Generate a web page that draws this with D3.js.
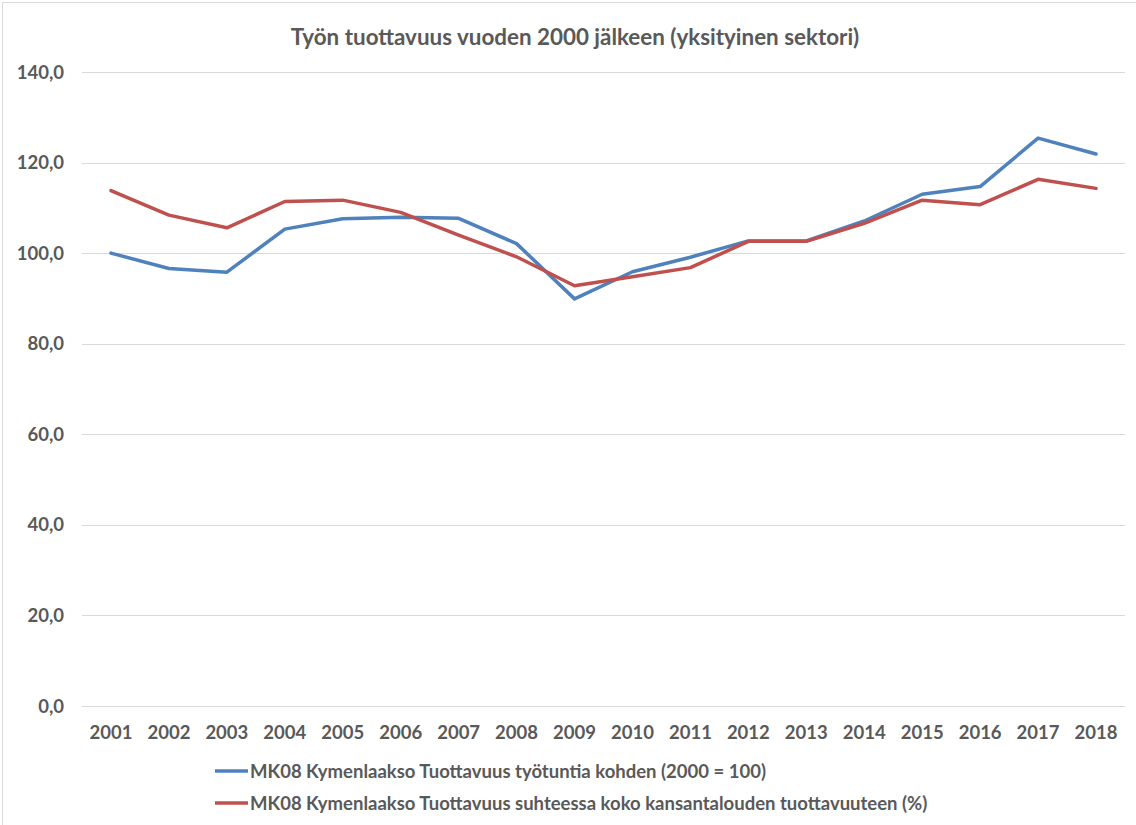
<!DOCTYPE html>
<html>
<head>
<meta charset="utf-8">
<script src="https://cdn.jsdelivr.net/npm/d3@7"></script>
<style>
  body { margin: 0; background: #fff; }
  text { font-family: Lato, "Open Sans", sans-serif; font-weight: bold; fill: #595959; }
</style>
</head>
<body>
<div id="chart"></div>
<script>
// Data
const years = ['2001','2002','2003','2004','2005','2006','2007','2008','2009',
  '2010','2011','2012','2013','2014','2015','2016','2017','2018'];
const perHour = [100.0, 96.6, 95.8, 105.3, 107.6, 107.9, 107.7, 102.1, 89.9,
  95.9, 99.1, 102.7, 102.7, 107.1, 113.0, 114.7, 125.4, 121.9];
const vsNational = [113.8, 108.4, 105.6, 111.4, 111.7, 109.0, 104.0, 99.2, 92.8,
  94.8, 96.8, 102.6, 102.6, 106.6, 111.7, 110.7, 116.3, 114.3];
const yTicks = [0, 20, 40, 60, 80, 100, 120, 140];
const seriesNames = [
  'MK08 Kymenlaakso Tuottavuus työtuntia kohden (2000 = 100)',
  'MK08 Kymenlaakso Tuottavuus suhteessa koko kansantalouden tuottavuuteen (%)'
];

const width = 1136;
const height = 825;
const margin = { top: 72, right: 11, bottom: 119, left: 82 };

const svg = d3.select('#chart')
  .append('svg')
  .attr('width', width)
  .attr('height', height);

// chart frame
svg.append('rect')
  .attr('x', 2.5).attr('y', 2.5)
  .attr('width', width + 10).attr('height', height + 10)
  .attr('fill', 'none')
  .attr('stroke', '#d9d9d9');

svg.append('text')
  .attr('x', 575)
  .attr('y', 45)
  .attr('text-anchor', 'middle')
  .style('font-size', '22.4px')
  .text('Työn tuottavuus vuoden 2000 jälkeen (yksityinen sektori)');

const x = d3.scaleBand()
  .domain(years)
  .range([margin.left, width - margin.right]);

const y = d3.scaleLinear()
  .domain([0, 140])
  .range([height - margin.bottom, margin.top]);

// gridlines
svg.append('g')
  .selectAll('line')
  .data(yTicks)
  .enter()
  .append('line')
  .attr('x1', margin.left)
  .attr('x2', width - margin.right)
  .attr('y1', d => Math.round(y(d)) + 0.5)
  .attr('y2', d => Math.round(y(d)) + 0.5)
  .attr('stroke', '#d9d9d9')
  .attr('stroke-width', 1);

// y labels
svg.append('g')
  .selectAll('text')
  .data(yTicks)
  .enter()
  .append('text')
  .attr('x', 64)
  .attr('y', d => y(d) + 6.5)
  .attr('text-anchor', 'end')
  .style('font-size', '18.5px')
  .text(d => d3.format('.1f')(d).replace('.', ','));

// x labels
svg.append('g')
  .selectAll('text')
  .data(years)
  .enter()
  .append('text')
  .attr('x', d => x(d) + x.bandwidth() / 2)
  .attr('y', 739)
  .attr('text-anchor', 'middle')
  .style('font-size', '18.5px')
  .text(d => d);

const line = d3.line()
  .x((d, i) => x(years[i]) + x.bandwidth() / 2)
  .y(d => y(d));

const colors = ['#4f81bd', '#c0504d'];

[perHour, vsNational].forEach((s, i) => {
  svg.append('path')
    .datum(s)
    .attr('d', line)
    .attr('fill', 'none')
    .attr('stroke', colors[i])
    .attr('stroke-width', 3.5)
    .attr('stroke-linejoin', 'round')
    .attr('stroke-linecap', 'round');
});

// legend
const legend = svg.append('g');
seriesNames.forEach((name, i) => {
  const ly = 771 + i * 32;
  legend.append('line')
    .attr('x1', 215).attr('x2', 248)
    .attr('y1', ly).attr('y2', ly)
    .attr('stroke', colors[i])
    .attr('stroke-width', 3.5);
  legend.append('text')
    .attr('x', 250)
    .attr('y', ly + 6.5)
    .style('font-size', '18.5px')
    .text(name);
});
</script>
</body>
</html>
